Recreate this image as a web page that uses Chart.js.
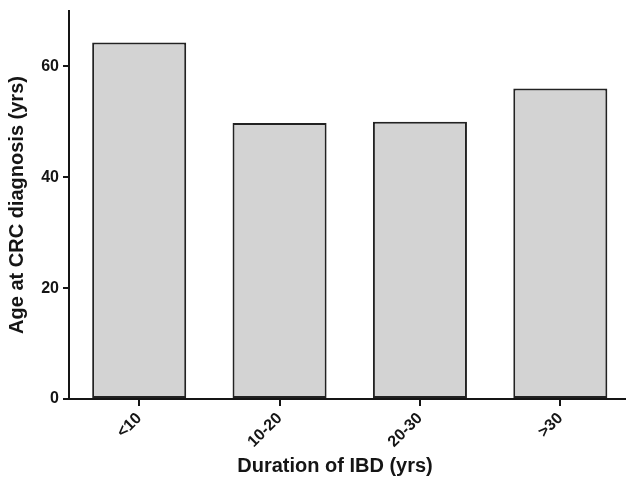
<!DOCTYPE html>
<html>
<head>
<meta charset="utf-8">
<script src="https://cdn.jsdelivr.net/npm/chart.js@4.4.1/dist/chart.umd.min.js"></script>
<style>
    html, body { margin: 0; padding: 0; background: #fff; overflow: hidden; }
    #wrap { width: 640px; height: 479px; }
</style>
</head>
<body>
<div id="wrap"><canvas id="ageChart" width="640" height="479"></canvas></div>
<script>
const categories = ['<10', '10-20', '20-30', '>30'];
const ageAtDiagnosis = [64.3, 49.8, 50.0, 56.0];
const yTicks = [0, 20, 40, 60];
const xTitle = 'Duration of IBD (yrs)';
const yTitle = 'Age at CRC diagnosis (yrs)';

const inkColor = '#151515';
const fontFamily = '"Liberation Sans", Arial, Helvetica, sans-serif';

// x title is drawn by hand, the original is not centred on the axis
const xTitlePlugin = {
    id: 'xTitlePlugin',
    afterDraw(chart) {
        const ctx = chart.ctx;
        ctx.save();
        ctx.font = 'bold 20px ' + fontFamily;
        ctx.fillStyle = inkColor;
        ctx.textAlign = 'center';
        ctx.textBaseline = 'middle';
        ctx.fillText(xTitle, 335, 466);
        ctx.restore();
    }
};

const ctx = document.getElementById('ageChart').getContext('2d');
const ageChart = new Chart(ctx, {
    type: 'bar',
    data: {
        labels: categories,
        datasets: [{
            data: ageAtDiagnosis,
            backgroundColor: '#d3d3d3',
            borderColor: '#222',
            borderWidth: 2,
            borderSkipped: false,
            categoryPercentage: 1.0,
            barPercentage: 0.67
        }]
    },
    options: {
        responsive: false,
        animation: false,
        devicePixelRatio: 1,
        layout: {
            padding: { top: 11, right: 9.5, bottom: 0, left: 0 }
        },
        scales: {
            x: {
                offset: true,
                afterFit: function (scale) { scale.height = 80; },
                grid: {
                    display: true,
                    offset: false,
                    drawOnChartArea: false,
                    drawTicks: true,
                    tickLength: 7,
                    color: inkColor,
                    lineWidth: 2
                },
                border: { display: true, color: inkColor, width: 2 },
                ticks: {
                    minRotation: 45,
                    maxRotation: 45,
                    padding: 3,
                    color: inkColor,
                    font: { family: fontFamily, size: 16, weight: 'bold' }
                }
            },
            y: {
                min: 0,
                max: 70,
                afterBuildTicks: function (scale) {
                    scale.ticks = yTicks.map(v => ({ value: v }));
                },
                afterFit: function (scale) {
                    scale.width = 69;
                    scale.paddingTop = 0;
                    scale.paddingBottom = 0;
                },
                grid: {
                    display: true,
                    drawOnChartArea: false,
                    drawTicks: true,
                    tickLength: 6,
                    color: inkColor,
                    lineWidth: 2
                },
                border: { display: true, color: inkColor, width: 2 },
                ticks: {
                    padding: 4,
                    color: inkColor,
                    font: { family: fontFamily, size: 16, weight: 'bold' }
                },
                title: {
                    display: true,
                    text: yTitle,
                    color: inkColor,
                    padding: { top: 5, bottom: 0 },
                    font: { family: fontFamily, size: 20, weight: 'bold' }
                }
            }
        },
        plugins: {
            legend: { display: false },
            tooltip: { enabled: false }
        }
    },
    plugins: [xTitlePlugin]
});
</script>
</body>
</html>
